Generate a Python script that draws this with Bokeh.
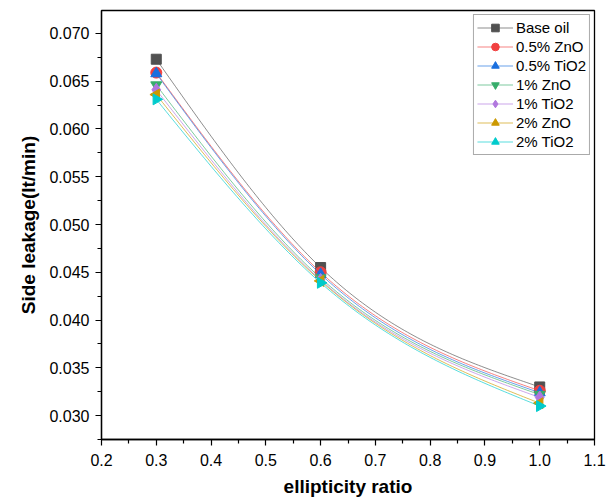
import numpy as np
from bokeh.plotting import figure
from bokeh.models import Range1d, Legend, LegendItem, FixedTicker, ColumnDataSource
from bokeh.embed import file_html
from bokeh.resources import INLINE

x_vals = [0.3, 0.6, 1.0]
series_names = ["Base oil", "0.5% ZnO", "0.5% TiO2", "1% ZnO", "1% TiO2", "2% ZnO", "2% TiO2"]
base_oil = [0.0673, 0.0455, 0.0330]
zno_05 = [0.0659, 0.0450, 0.0326]
tio2_05 = [0.0658, 0.0448, 0.0324]
zno_1 = [0.0646, 0.0444, 0.0322]
tio2_1 = [0.0641, 0.0442, 0.0319]
zno_2 = [0.0636, 0.0441, 0.0313]
tio2_2 = [0.0631, 0.0439, 0.0310]
series_values = [base_oil, zno_05, tio2_05, zno_1, tio2_1, zno_2, tio2_2]

colors = ["#515151", "#F14040", "#1A6FDF", "#37AD6B", "#B177DE", "#CC9900", "#00CBCC"]
markers = ["square", "circle", "triangle", "inverted_triangle", "diamond", "triangle", "triangle"]
angles = [0, 0, 0, 0, 0, np.pi / 2, -np.pi / 2]
sizes = [10, 11, 11, 11, 13, 11, 11]

x_ticks = [0.2, 0.3, 0.4, 0.5, 0.6, 0.7, 0.8, 0.9, 1.0, 1.1]
y_ticks = [0.030, 0.035, 0.040, 0.045, 0.050, 0.055, 0.060, 0.065, 0.070]


def natural_spline(xs, ys, n=120):
    xs = np.asarray(xs, float)
    ys = np.asarray(ys, float)
    k = len(xs)
    h = np.diff(xs)
    A = np.zeros((k, k))
    b = np.zeros(k)
    A[0, 0] = 1
    A[-1, -1] = 1
    for i in range(1, k - 1):
        A[i, i - 1] = h[i - 1]
        A[i, i] = 2 * (h[i - 1] + h[i])
        A[i, i + 1] = h[i]
        b[i] = 6 * ((ys[i + 1] - ys[i]) / h[i] - (ys[i] - ys[i - 1]) / h[i - 1])
    M = np.linalg.solve(A, b)
    xx = np.linspace(xs[0], xs[-1], n)
    yy = np.empty_like(xx)
    for j, t in enumerate(xx):
        i = min(np.searchsorted(xs, t, side="right") - 1, k - 2)
        a, c = xs[i], xs[i + 1]
        hi = c - a
        yy[j] = (M[i] * (c - t) ** 3 / (6 * hi) + M[i + 1] * (t - a) ** 3 / (6 * hi)
                 + (ys[i] / hi - M[i] * hi / 6) * (c - t)
                 + (ys[i + 1] / hi - M[i + 1] * hi / 6) * (t - a))
    return xx, yy


p = figure(width=615, height=500, output_backend="svg", toolbar_location=None,
           x_range=Range1d(0.2, 1.1), y_range=Range1d(0.0275, 0.0724),
           min_border_left=101, min_border_right=21, min_border_top=10, min_border_bottom=61)

p.xgrid.visible = False
p.ygrid.visible = False
p.outline_line_color = "black"
p.outline_line_width = 1.3
p.background_fill_color = "white"
p.border_fill_color = "white"

font = "Liberation Sans"
for ax in [p.xaxis[0], p.yaxis[0]]:
    ax.axis_line_width = 1.3
    ax.major_tick_line_width = 1.2
    ax.minor_tick_line_width = 1.2
    ax.major_tick_out = 6
    ax.major_tick_in = 0
    ax.minor_tick_out = 4
    ax.minor_tick_in = 0
    ax.major_label_text_font = font
    ax.major_label_text_font_size = "16px"
    ax.major_label_text_color = "black"
    ax.axis_label_text_font = font
    ax.axis_label_text_font_style = "bold"
    ax.axis_label_text_font_size = "19px"
    ax.axis_label_text_color = "black"

p.xaxis.ticker = FixedTicker(ticks=x_ticks, minor_ticks=[0.25 + 0.1 * i for i in range(9)])
p.yaxis.ticker = FixedTicker(ticks=y_ticks, minor_ticks=[0.0325 + 0.005 * i for i in range(8)] + [0.0275, 0.0725])
p.xaxis.major_label_overrides = {t: f"{t:.1f}" for t in x_ticks}
p.yaxis.major_label_overrides = {t: f"{t:.3f}" for t in y_ticks}
p.xaxis.axis_label = "ellipticity ratio"
p.yaxis.axis_label = "Side leakage(lt/min)"
p.xaxis.major_label_standoff = 8
p.yaxis.major_label_standoff = 6
p.xaxis.axis_label_standoff = 7
p.yaxis.axis_label_standoff = 7

items = []
for name, vals, col, mk, ang, sz in zip(series_names, series_values, colors, markers, angles, sizes):
    xx, yy = natural_spline(x_vals, vals)
    ln = p.line(xx, yy, line_color=col, line_width=1, line_alpha=0.65)
    src = ColumnDataSource(dict(x=x_vals, y=vals, a=[ang] * len(x_vals)))
    sc = p.scatter("x", "y", source=src, marker=mk, angle="a", size=sz, fill_color=col, line_color=col)
    items.append(LegendItem(label=name, renderers=[ln, sc], index=0))

legend = Legend(items=items, location="top_right")
legend.label_text_font = font
legend.label_text_font_size = "15px"
legend.label_text_color = "black"
legend.border_line_color = "#555555"
legend.border_line_width = 1
legend.glyph_width = 36
legend.glyph_height = 19
legend.spacing = 0
legend.padding = 3
legend.margin = 4
legend.label_standoff = 3
legend.label_height = 19
p.add_layout(legend)

open("out.html", "w").write(file_html(p, INLINE))
